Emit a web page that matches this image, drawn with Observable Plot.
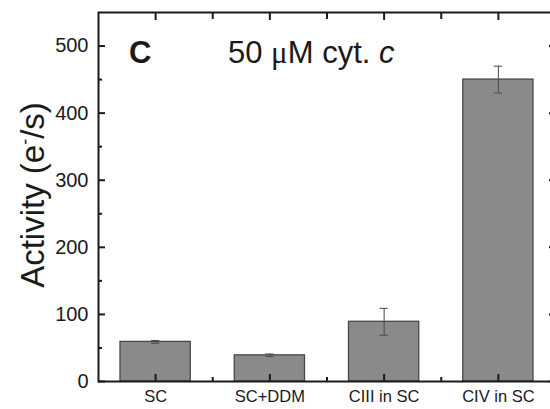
<!DOCTYPE html>
<html>
<head>
<meta charset="utf-8">
<script src="https://cdn.jsdelivr.net/npm/d3@7"></script>
<script src="https://cdn.jsdelivr.net/npm/@observablehq/plot@0.6"></script>
<style>
  html, body { margin: 0; padding: 0; background: #fff; overflow: hidden; }
  #chart { width: 550px; height: 409px; overflow: hidden; }
</style>
</head>
<body>
<div id="chart"></div>
<script>
const categories = ["SC", "SC+DDM", "CIII in SC", "CIV in SC"];
const activity = [59, 39, 89, 450];
const errors = [2, 2, 20, 20];
const yMajorTicks = [0, 100, 200, 300, 400, 500];
const yMinorTicks = [50, 150, 250, 350, 450];
const panelLetter = "C";

const table = categories.map((c, i) => ({pos: i + 1, cat: c, value: activity[i], err: errors[i]}));
const xMajor = table.map(d => d.pos);
const xMinor = xMajor.slice(0, -1).map(p => p + 0.5);

const font = "Liberation Sans, Arial, sans-serif";
const ink = "#1a1a1a";

const plot = Plot.plot({
  width: 550,
  height: 409,
  marginLeft: 98,
  marginRight: -5,
  marginTop: 12,
  marginBottom: 28,
  style: {fontFamily: font, color: ink, background: "#fff", overflow: "hidden"},
  x: {type: "linear", domain: [0.5, categories.length + 0.5]},
  y: {domain: [0, 550]},
  marks: [
    Plot.rectY(table, {
      x1: d => d.pos - 0.5, x2: d => d.pos + 0.5, y1: 0, y2: "value",
      insetLeft: 22, insetRight: 22,
      fill: "#898a8c", stroke: "#474747", strokeWidth: 1.3
    }),
    Plot.ruleX(table, {x: "pos", y1: d => d.value - d.err, y2: d => d.value + d.err, stroke: "#4a4a4a", strokeWidth: 1}),
    Plot.ruleY(table, {y: d => d.value - d.err, x1: d => d.pos - 0.5, x2: d => d.pos + 0.5, insetLeft: 53, insetRight: 53, stroke: "#4a4a4a", strokeWidth: 1}),
    Plot.ruleY(table, {y: d => d.value + d.err, x1: d => d.pos - 0.5, x2: d => d.pos + 0.5, insetLeft: 53, insetRight: 53, stroke: "#4a4a4a", strokeWidth: 1}),
    // bottom axis
    Plot.axisX({anchor: "bottom", ticks: xMajor, tickSize: -7, tickPadding: 16, tickFormat: p => categories[p - 1], fontSize: 16.5, label: null, strokeWidth: 2, stroke: ink, fill: ink}),
    Plot.axisX({anchor: "bottom", ticks: xMinor, tickSize: -4, tickFormat: () => "", label: null, strokeWidth: 2, stroke: ink}),
    // top axis ticks
    Plot.axisX({anchor: "top", ticks: xMajor, tickSize: -7, tickFormat: () => "", label: null, strokeWidth: 2, stroke: ink}),
    Plot.axisX({anchor: "top", ticks: xMinor, tickSize: -6, tickFormat: () => "", label: null, strokeWidth: 2, stroke: ink}),
    // left axis
    Plot.axisY({anchor: "left", ticks: yMajorTicks, tickSize: -7, tickPadding: 17, fontSize: 20, label: null, strokeWidth: 2, stroke: ink, fill: ink}),
    Plot.axisY({anchor: "left", ticks: yMinorTicks, tickSize: -4, tickFormat: () => "", label: null, strokeWidth: 2, stroke: ink}),
    // right axis ticks
    Plot.axisY({anchor: "right", ticks: yMajorTicks, tickSize: -7, tickFormat: () => "", label: null, strokeWidth: 2, stroke: ink}),
    Plot.axisY({anchor: "right", ticks: yMinorTicks, tickSize: -4, tickFormat: () => "", label: null, strokeWidth: 2, stroke: ink}),
    Plot.frame({stroke: ink, strokeWidth: 2})
  ]
});

const svg = d3.select(plot);
// panel letter
svg.append("text")
  .attr("x", 129).attr("y", 63).attr("text-anchor", "start")
  .attr("font-family", font).attr("font-weight", "bold").attr("font-size", 31).attr("fill", ink)
  .text(panelLetter);
// concentration title
const t = svg.append("text")
  .attr("x", 228).attr("y", 63).attr("text-anchor", "start")
  .attr("font-family", font).attr("font-size", 31).attr("fill", ink);
t.append("tspan").text("50 ");
t.append("tspan").attr("font-family", "Liberation Serif, DejaVu Serif, serif").text("μ");
t.append("tspan").text("M cyt. ");
t.append("tspan").attr("font-style", "italic").text("c");
// y label
const yl = svg.append("text")
  .attr("transform", "translate(44,195) rotate(-90)")
  .attr("text-anchor", "middle")
  .attr("font-family", font).attr("font-size", 33).attr("fill", ink);
yl.append("tspan").text("Activity (e");
yl.append("tspan").attr("dy", -13).attr("font-size", 18).text("-");
yl.append("tspan").attr("dy", 13).text("/s)");

document.getElementById("chart").appendChild(plot);
</script>
</body>
</html>
